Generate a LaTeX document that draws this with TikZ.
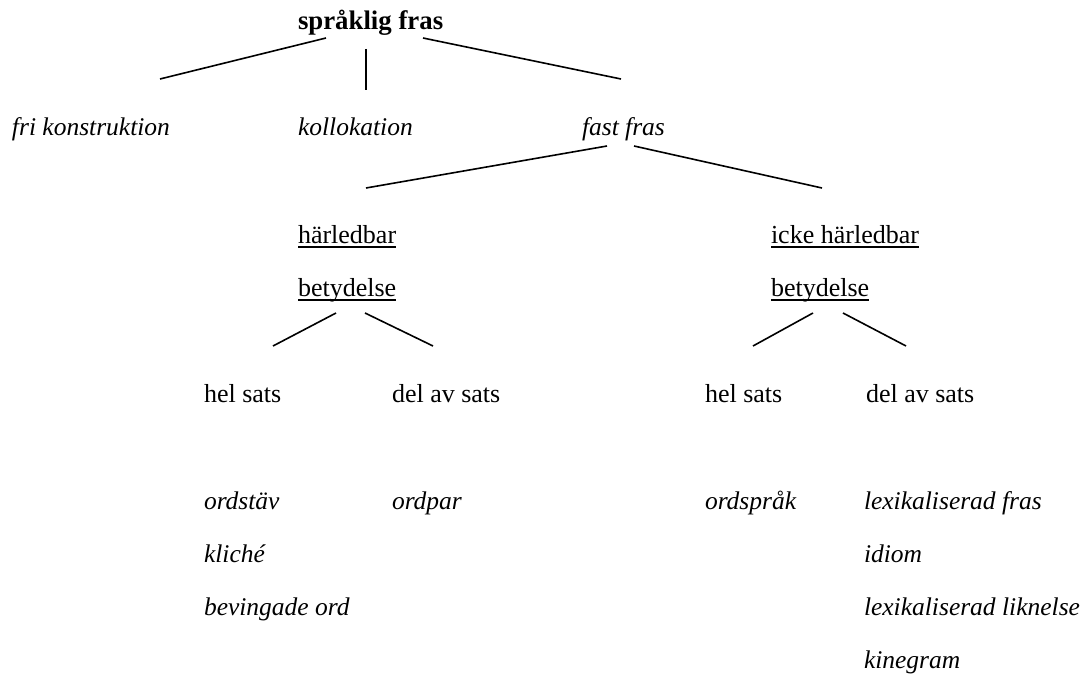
\documentclass[tikz,border=0pt]{standalone}
\usepackage{fontspec}
\setmainfont{Liberation Serif}
\begin{document}
\begin{tikzpicture}[x=1pt,y=-1pt,
  lbl/.style={anchor=base west,inner sep=0pt,outer sep=0pt,font=\fontsize{26}{30}\selectfont},
  it/.style={lbl,font=\fontsize{25.5}{30}\selectfont\itshape},
  bf/.style={lbl,font=\fontsize{26.8}{30}\selectfont\bfseries},
  edge/.style={line width=1.6pt},
  uline/.style={line width=1.5pt}]
\useasboundingbox (0,0) rectangle (1082,674);
% nodes
\node[bf] (root) at (298,30) {språklig fras};
\node[it] (fri) at (12,136) {fri konstruktion};
\node[it] (koll) at (298,136) {kollokation};
\node[it] (fast) at (582,136) {fast fras};
\node[lbl] (harl) at (298,243) {härledbar};
\node[lbl] (bet1) at (298,296) {betydelse};
\node[lbl] (iharl) at (771,243) {icke härledbar};
\node[lbl] (bet2) at (771,296) {betydelse};
\node[lbl] (hel1) at (204,402) {hel sats};
\node[lbl] (del1) at (392,402) {del av sats};
\node[lbl] (hel2) at (705,402) {hel sats};
\node[lbl] (del2) at (866,402) {del av sats};
\node[it] (ordstav) at (204,509) {ordstäv};
\node[it] (kliche) at (204,562) {kliché};
\node[it] (beving) at (204,615) {bevingade ord};
\node[it] (ordpar) at (392,509) {ordpar};
\node[it] (ordsprak) at (705,509) {ordspråk};
\node[it] (lexfras) at (864,509) {lexikaliserad fras};
\node[it] (idiom) at (864,562) {idiom};
\node[it] (lexlik) at (864,615) {lexikaliserad liknelse};
\node[it] (kine) at (864,668) {kinegram};
% underlines
\foreach \n in {harl,bet1,iharl,bet2}{
  \draw[uline] ([yshift=-4pt]\n.base west) -- ([yshift=-4pt]\n.base east);
}
% connector end points
\coordinate (r1) at (326,38);  \coordinate (c1) at (160,79);
\coordinate (r2) at (366,49);  \coordinate (c2) at (366,90);
\coordinate (r3) at (423,38);  \coordinate (c3) at (621,79);
\coordinate (f1) at (607,146); \coordinate (h1) at (366,188);
\coordinate (f2) at (634,146); \coordinate (h2) at (822,188);
\coordinate (b1a) at (336,313); \coordinate (s1a) at (273,346);
\coordinate (b1b) at (365,313); \coordinate (s1b) at (433,346);
\coordinate (b2a) at (813,313); \coordinate (s2a) at (753,346);
\coordinate (b2b) at (843,313); \coordinate (s2b) at (906,346);
\draw[edge] (r1) -- (c1);
\draw[edge] (r2) -- (c2);
\draw[edge] (r3) -- (c3);
\draw[edge] (f1) -- (h1);
\draw[edge] (f2) -- (h2);
\draw[edge] (b1a) -- (s1a);
\draw[edge] (b1b) -- (s1b);
\draw[edge] (b2a) -- (s2a);
\draw[edge] (b2b) -- (s2b);
\end{tikzpicture}
\end{document}
